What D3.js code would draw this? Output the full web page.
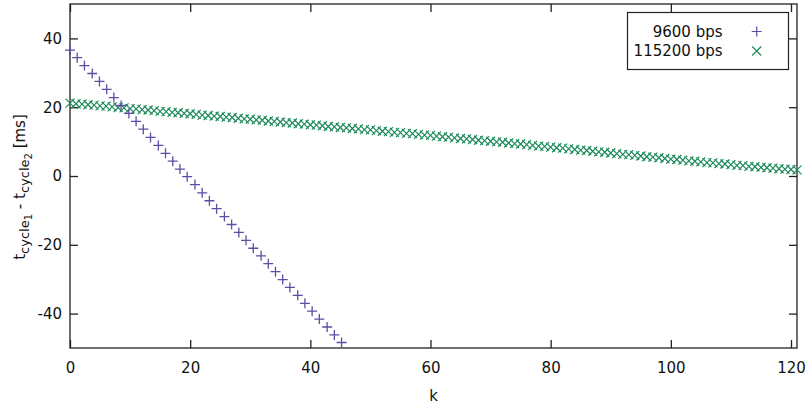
<!DOCTYPE html>
<html>
  <head>
    <meta charset="utf-8">
    <title>t_cycle difference vs k</title>
    <script src="https://d3js.org/d3.v7.min.js"></script>
    <style>
      body { margin: 0; background: #fff; }
      text { font-family: "DejaVu Sans", sans-serif; fill: #111; }
    </style>
  </head>
  <body>
    <svg width="810" height="410"></svg>
    <script>
      // series names for the legend
      var seriesNames = ["9600 bps", "115200 bps"];

      // 9600 bps: k positions and values [ms]
      var k9600 = [0, 1.2, 2.4, 3.7, 4.9, 6.1, 7.3, 8.5, 9.8, 11.0, 12.2, 13.4, 14.7, 15.9, 17.1, 18.3, 19.5, 20.8, 22.0,
        23.2, 24.4, 25.7, 26.9, 28.1, 29.3, 30.5, 31.8, 33.0, 34.2, 35.4, 36.6, 37.9, 39.1, 40.3, 41.5, 42.8, 44.0, 45.2];
      var v9600 = [36.6, 34.4, 32.1, 29.8, 27.5, 25.2, 22.8, 20.5, 18.2, 15.9, 13.6, 11.2, 8.9, 6.6, 4.3, 2.0, -0.2, -2.5, -4.9,
        -7.2, -9.5, -11.8, -14.1, -16.4, -18.7, -21.0, -23.2, -25.5, -27.8, -30.1, -32.4, -34.7, -37.0, -39.3, -41.6, -43.9, -46.2, -48.4];

      // 115200 bps: k = 0..121 and values [ms]
      var k115200 = d3.range(0, 122);
      var v115200 = [21.2, 21.0, 20.9, 20.7, 20.6, 20.4, 20.3, 20.1, 19.9, 19.8, 19.6, 19.5, 19.3, 19.2, 19.0, 18.8, 18.7, 18.5, 18.4, 18.2,
        18.1, 17.9, 17.7, 17.6, 17.4, 17.3, 17.1, 17.0, 16.8, 16.6, 16.5, 16.3, 16.2, 16.0, 15.9, 15.7, 15.5, 15.4, 15.2, 15.1,
        14.9, 14.8, 14.6, 14.4, 14.3, 14.1, 14.0, 13.8, 13.7, 13.5, 13.4, 13.2, 13.0, 12.9, 12.7, 12.6, 12.4, 12.3, 12.1, 11.9,
        11.8, 11.6, 11.4, 11.3, 11.1, 10.9, 10.8, 10.6, 10.4, 10.3, 10.1, 9.9, 9.8, 9.6, 9.4, 9.3, 9.1, 8.9, 8.7, 8.6,
        8.4, 8.2, 8.1, 7.9, 7.7, 7.5, 7.4, 7.2, 7.0, 6.9, 6.7, 6.5, 6.3, 6.2, 6.0, 5.8, 5.6, 5.5, 5.3, 5.1,
        4.9, 4.8, 4.6, 4.4, 4.3, 4.1, 3.9, 3.8, 3.6, 3.5, 3.3, 3.1, 3.0, 2.8, 2.7, 2.5, 2.4, 2.3, 2.1, 2.0,
        1.9, 1.8];

      // tick values
      var xTicks = [0, 20, 40, 60, 80, 100, 120];
      var yTicks = [-40, -20, 0, 20, 40];

      var colors = ["#5b4ea3", "#1d8a5b"];

      var svg = d3.select("svg"),
        margin = {top: 4, right: 13, bottom: 62, left: 70},
        width = +svg.attr("width") - margin.left - margin.right,
        height = +svg.attr("height") - margin.top - margin.bottom,
        g = svg.append("g").attr("transform", "translate(" + margin.left + "," + margin.top + ")");

      var x = d3.scaleLinear().domain([0, 121]).range([0, width]);
      var y = d3.scaleLinear().domain([-50, 50]).range([height, 0]);

      var fmt = function (d) { return String(d); };

      // bottom / left axes with inward ticks
      var xAxis = g.append("g")
        .attr("transform", "translate(0," + height + ")")
        .call(d3.axisBottom(x).tickValues(xTicks).tickSize(-8).tickPadding(14).tickFormat(fmt));
      var yAxis = g.append("g")
        .call(d3.axisLeft(y).tickValues(yTicks).tickSize(-8).tickPadding(8).tickFormat(fmt));

      // mirrored ticks on top and right
      var xTop = g.append("g")
        .call(d3.axisTop(x).tickValues(xTicks).tickSize(-8).tickFormat(""));
      var yRight = g.append("g")
        .attr("transform", "translate(" + width + ",0)")
        .call(d3.axisRight(y).tickValues(yTicks).tickSize(-8).tickFormat(""));

      [xAxis, yAxis, xTop, yRight].forEach(function (a) {
        a.select(".domain").remove();
        a.selectAll(".tick line").attr("stroke", "#222").attr("stroke-width", 1.3);
        a.selectAll(".tick text").style("font-size", "15px").style("font-family", "DejaVu Sans, sans-serif").attr("fill", "#111");
      });

      // border box
      g.append("rect")
        .attr("width", width).attr("height", height)
        .attr("fill", "none").attr("stroke", "#222").attr("stroke-width", 1.3);

      // axis titles
      svg.append("text")
        .attr("x", margin.left + width / 2)
        .attr("y", 401)
        .attr("text-anchor", "middle")
        .style("font-size", "15px")
        .text("k");

      var yl = svg.append("text")
        .attr("transform", "translate(25," + (margin.top + height / 2 + 11) + ") rotate(-90)")
        .attr("text-anchor", "middle")
        .style("font-size", "15px");
      yl.append("tspan").text("t");
      yl.append("tspan").attr("dy", 4).style("font-size", "13px").text("cycle");
      yl.append("tspan").attr("dy", 3).style("font-size", "10px").text("1");
      yl.append("tspan").attr("dy", -7).text(" - t");
      yl.append("tspan").attr("dy", 4).style("font-size", "13px").text("cycle");
      yl.append("tspan").attr("dy", 3).style("font-size", "10px").text("2");
      yl.append("tspan").attr("dy", -7).text(" [ms]");

      // markers
      var plus = function (s) { return "M" + (-s) + ",0H" + s + "M0," + (-s) + "V" + s; };
      var cross = function (s) { return "M" + (-s) + "," + (-s) + "L" + s + "," + s + "M" + (-s) + "," + s + "L" + s + "," + (-s); };

      var data9600 = k9600.map(function (k, i) { return {k: k, v: v9600[i]}; });
      var data115200 = k115200.map(function (k, i) { return {k: k, v: v115200[i]}; });

      g.append("g").selectAll("path")
        .data(data115200)
        .enter().append("path")
        .attr("d", cross(4.5))
        .attr("transform", function (d) { return "translate(" + x(d.k) + "," + y(d.v) + ")"; })
        .attr("stroke", colors[1]).attr("stroke-width", 1.2).attr("fill", "none");

      g.append("g").selectAll("path")
        .data(data9600)
        .enter().append("path")
        .attr("d", plus(5))
        .attr("transform", function (d) { return "translate(" + x(d.k) + "," + y(d.v) + ")"; })
        .attr("stroke", colors[0]).attr("stroke-width", 1.3).attr("fill", "none");

      // legend
      var legend = svg.append("g");
      legend.append("rect")
        .attr("x", 627.5).attr("y", 12.5).attr("width", 161).attr("height", 57)
        .attr("fill", "#fff").attr("stroke", "#222").attr("stroke-width", 1.2);
      var rows = legend.selectAll("g.row")
        .data(seriesNames)
        .enter().append("g")
        .attr("class", "row")
        .attr("transform", function (d, i) { return "translate(0," + (i * 19.5) + ")"; });
      rows.append("text")
        .attr("x", 722.5).attr("y", 36.7)
        .attr("text-anchor", "end")
        .style("font-size", "15px")
        .text(function (d) { return d; });
      rows.append("path")
        .attr("transform", "translate(756.7,31.5)")
        .attr("d", function (d, i) { return i === 0 ? plus(5) : cross(4.5); })
        .attr("stroke", function (d, i) { return colors[i]; })
        .attr("stroke-width", 1.2).attr("fill", "none");
    </script>
  </body>
</html>
